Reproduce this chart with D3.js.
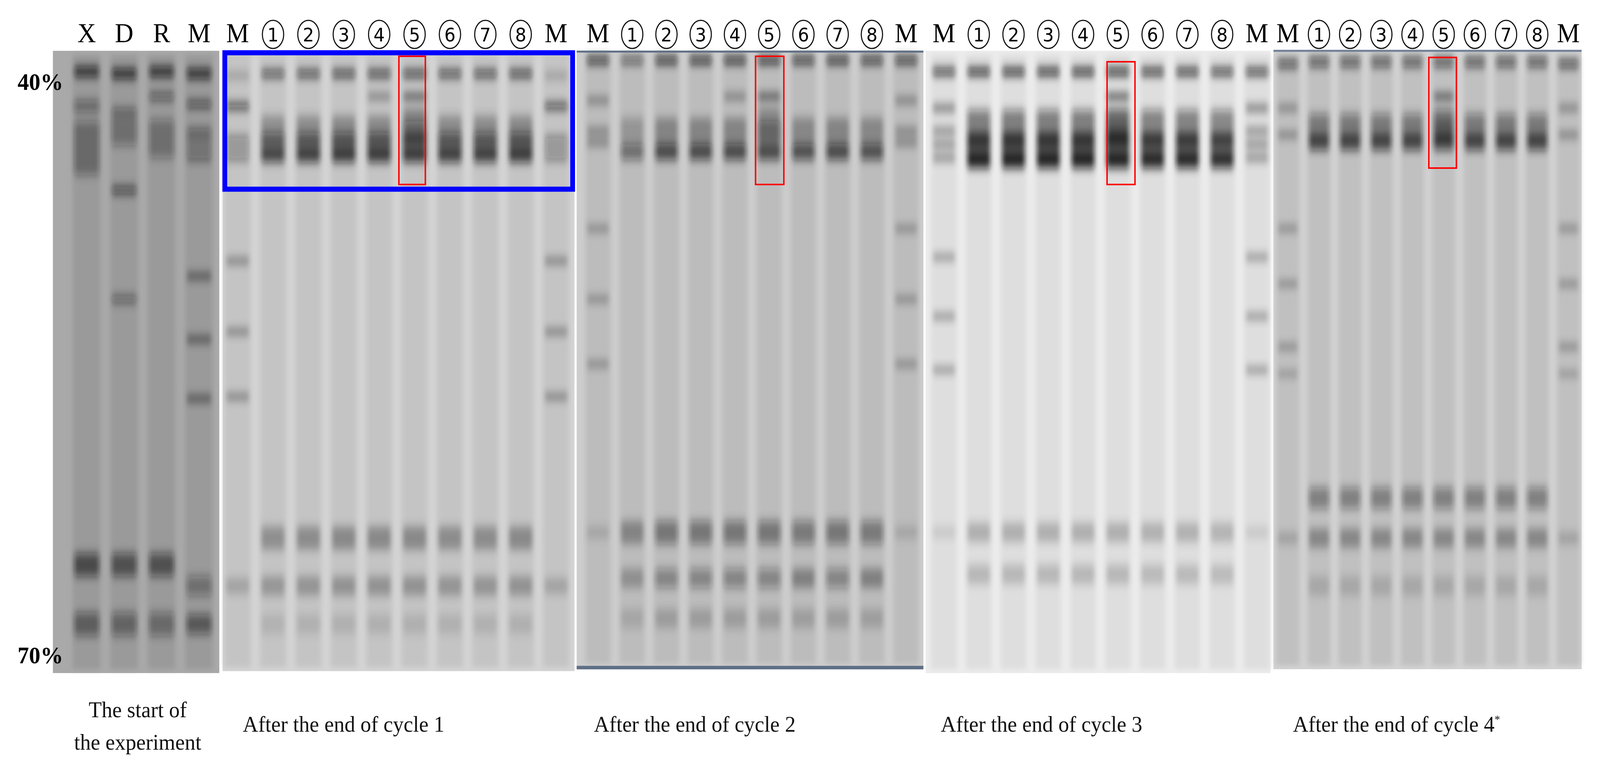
<!DOCTYPE html>
<html><head><meta charset="utf-8">
<script src="https://cdn.jsdelivr.net/npm/d3@7"></script>
<style>html,body{margin:0;padding:0;background:#fff;overflow:hidden;width:100%;height:100%}svg{display:block}</style></head>
<body><svg id="c" viewBox="0 0 4356 1970" preserveAspectRatio="none" style="width:100vw;height:100vh"></svg>
<script>
// ---- data ----
const panelNames = ["start","cycle1","cycle2","cycle3","cycle4"];
const panelCaptions = [["The start of","the experiment"],["After the end of cycle 1"],["After the end of cycle 2"],["After the end of cycle 3"],["After the end of cycle 4"]];
const startLanes = ["X","D","R","M"];
const cycleLanes = ["M","1","2","3","4","5","6","7","8","M2"];
const panelX0 = [144,606,1570,2520,3467];
const panelX1 = [597,1564,2514,3459,4306];
const laneFirst = [236,647,1628,2570,3506];
const laneLast = [542,1514,2467,3422,4270];
const panelBg = ["#a9a9a9","#d4d4d4","#cdcdcd","#ececec","#d2d2d2"];
const laneTone = ["#9a9a9a","#c4c4c4","#bcbcbc","#dedede","#c0c0c0"];
const gradientTicks = ["40%","70%"];
const gradientDomain = [40,70];
// bands: [percent, intensity(0-1), thickness in %]
const startBands = {
  X:[[39.5,1,0.5],[41.3,0.5,0.6],[43.5,0.45,2.8],[65.3,0.7,1.2],[68.4,0.55,1.2]],
  D:[[39.6,1,0.5],[41.6,0.55,0.4],[42.6,0.4,1.5],[45.7,0.75,0.4],[51.4,0.55,0.4],[65.3,0.65,1.2],[68.4,0.5,1.2]],
  R:[[39.5,1,0.5],[40.8,0.6,0.4],[43,0.4,2.0],[65.3,0.65,1.2],[68.4,0.45,1.2]],
  M:[[39.6,1,0.5],[41.2,0.7,0.4],[42.6,0.6,0.3],[43.0,0.6,0.3],[43.5,0.6,0.3],[44.0,0.6,0.3],[50.2,0.7,0.3],[53.5,0.7,0.3],[56.6,0.7,0.3],[66.4,0.4,1.0],[68.4,0.6,1.0]]
};
const markerBands = [
  [[39.7,0.3,0.3],[41.3,0.8,0.35],[43.0,0.5,0.3],[43.5,0.5,0.3],[44.0,0.5,0.3],[49.4,0.6,0.25],[53.1,0.6,0.25],[56.5,0.6,0.25],[66.4,0.2,0.8]],
  [[38.9,0.9,0.4],[41.0,0.5,0.3],[42.6,0.5,0.3],[43.2,0.5,0.3],[47.7,0.5,0.25],[51.4,0.5,0.25],[54.8,0.5,0.25],[63.6,0.15,0.6]],
  [[39.5,0.8,0.4],[41.4,0.6,0.3],[42.6,0.5,0.3],[43.3,0.5,0.3],[44,0.5,0.3],[49.2,0.5,0.25],[52.3,0.5,0.25],[55.1,0.5,0.25],[63.6,0.1,0.6]],
  [[39.1,0.8,0.4],[41.4,0.5,0.3],[42.8,0.5,0.3],[47.7,0.5,0.25],[50.6,0.5,0.25],[53.9,0.5,0.25],[55.3,0.4,0.25],[63.9,0.2,0.6]]
];
const sampleBands = [
  [[39.6,0.85,0.4],[42.6,0.35,1.6],[43.4,0.6,1.4],[43.9,0.7,0.7],[63.9,0.35,1.2],[66.4,0.3,1.0],[68.4,0.12,1.0]],
  [[38.9,0.95,0.4],[42.6,0.35,1.4],[43.7,0.8,0.8],[63.6,0.5,1.2],[66.0,0.4,1.0],[68.1,0.2,1.0]],
  [[39.5,0.9,0.4],[42.4,0.5,1.8],[43.5,0.75,1.6],[44.2,0.85,0.7],[63.6,0.22,1.0],[65.8,0.18,1.0]],
  [[39.0,0.7,0.5],[42.4,0.5,1.4],[43.2,0.8,0.8],[61.8,0.45,1.1],[63.9,0.35,1.0],[66.4,0.15,1.0]]
];
const lane5Extra = [[40.8,0.8,0.3],[41.6,0.6,0.25],[42.2,0.6,0.25],[42.6,0.6,0.25],[43.0,0.6,0.25]];
const lane4Extra = [[40.8,0.5,0.3]];
const laneStrength = [
  [0.9,0.95,1,1,1,0.95,0.95,1],
  [0.7,1,1,1,1,0.95,1,0.95],
  [1,1,1,1,1,0.95,0.95,0.9],
  [1,1,1,1,1,1,1,1]
];
const redBox = [[1086,144,1158,472],[2057,144,2134,472],[3014,158,3090,472],[3890,147,3965,430]];

// ---- drawing ----
const svg = d3.select("#c");
const y = d3.scaleLinear().domain(gradientDomain).range([208,1675]);
const defs = svg.append("defs");
defs.append("filter").attr("id","blur").attr("x","-50%").attr("y","-200%").attr("width","200%").attr("height","500%")
  .append("feGaussianBlur").attr("stdDeviation","6 12");
defs.append("filter").attr("id","blur2").attr("x","-20%").attr("y","-20%").attr("width","140%").attr("height","140%")
  .append("feGaussianBlur").attr("stdDeviation","7");
const gelTop=130, gelBot=[1722,1717,1708,1722,1712];
const serif = "'Liberation Serif','DejaVu Serif',serif";

panelNames.forEach((p,i)=>{
  const lanes = i===0 ? startLanes : cycleLanes;
  const xs = d3.scalePoint().domain(lanes).range([laneFirst[i],laneLast[i]]);
  const lw = (laneLast[i]-laneFirst[i])/(lanes.length-1)*0.74;
  const g = svg.append("g");
  g.append("rect").attr("x",panelX0[i]).attr("y",gelTop).attr("width",panelX1[i]-panelX0[i]).attr("height",gelBot[i]-gelTop).attr("fill",panelBg[i]);
  const lg = g.append("g").attr("filter","url(#blur2)");
  lanes.forEach((l,j)=>{
    const cx = xs(l);
    lg.append("rect").attr("x",cx-lw/2).attr("y",gelTop+10).attr("width",lw).attr("height",gelBot[i]-gelTop-20).attr("fill",laneTone[i]);
  });
  const bg = g.append("g").attr("filter","url(#blur)");
  lanes.forEach((l,j)=>{
    const cx = xs(l);
    let bands, s=1;
    if(i===0) bands = startBands[l];
    else if(l==="M"||l==="M2") bands = markerBands[i-1];
    else {
      const k=+l-1; s = laneStrength[i-1][k];
      bands = sampleBands[i-1].slice();
      if(l==="5") bands = bands.concat(lane5Extra);
      if(l==="4" && i<3) bands = bands.concat(lane4Extra);
    }
    bands.forEach(b=>{
      const y0=y(b[0]-b[2]/2), y1=y(b[0]+b[2]/2);
      bg.append("rect").attr("x",cx-lw/2+4).attr("y",y0).attr("width",lw-8).attr("height",Math.max(6,y1-y0))
        .attr("rx",6).attr("fill","#111").attr("opacity",b[1]*s*(i===3?0.95:0.85));
    });
  });
  if(i===0){
    lanes.forEach(l=>svg.append("text").attr("x",xs(l)).attr("y",108).attr("text-anchor","middle")
      .attr("font-family",serif).attr("font-size",70).text(l));
  } else {
    lanes.forEach(l=>{
      const cx = xs(l);
      if(l==="M"||l==="M2"){
        svg.append("text").attr("x",cx).attr("y",108).attr("text-anchor","middle").attr("font-family",serif).attr("font-size",70).text("M");
      } else {
        svg.append("ellipse").attr("cx",cx).attr("cy",88).attr("rx",29).attr("ry",36).attr("fill","none").attr("stroke","#111").attr("stroke-width",3);
        svg.append("text").attr("x",cx).attr("y",106).attr("text-anchor","middle").attr("font-family","'DejaVu Sans',sans-serif").attr("font-size",48).text(l);
      }
    });
  }
  const cap = panelCaptions[i];
  const t = svg.append("text").attr("font-family",serif).attr("font-size",58).attr("fill","#111");
  if(i===0){
    t.attr("text-anchor","middle");
    t.append("tspan").attr("x",375).attr("y",1835).text(cap[0]);
    t.append("tspan").attr("x",375).attr("y",1918).text(cap[1]);
  } else {
    t.attr("x",[0,661,1617,2561,3520][i]).attr("y",1872).text(cap[0]);
    if(i===4) t.append("tspan").attr("dy",-22).attr("font-size",30).text("*");
  }
});
svg.append("line").attr("x1",1570).attr("x2",2514).attr("y1",132).attr("y2",132).attr("stroke","#5f6f85").attr("stroke-width",5);
svg.append("line").attr("x1",1570).attr("x2",2514).attr("y1",1708).attr("y2",1708).attr("stroke","#5f6f85").attr("stroke-width",9);
svg.append("line").attr("x1",3467).attr("x2",4306).attr("y1",130).attr("y2",130).attr("stroke","#6f7f95").attr("stroke-width",5);
svg.selectAll("text.tick").data(gradientTicks).enter().append("text").attr("class","tick")
  .attr("x",48).attr("y",(d,k)=>y(gradientDomain[k])+22).attr("font-family",serif).attr("font-weight","bold").attr("font-size",62).text(d=>d);
svg.append("rect").attr("x",612).attr("y",135).attr("width",947).attr("height",349).attr("fill","none").attr("stroke","#0000ff").attr("stroke-width",13);
svg.selectAll("rect.red").data(redBox).enter().append("rect").attr("class","red")
  .attr("x",d=>d[0]).attr("y",d=>d[1]).attr("width",d=>d[2]-d[0]).attr("height",d=>d[3]-d[1])
  .attr("fill","none").attr("stroke","#ff0000").attr("stroke-width",4);
</script></body></html>
